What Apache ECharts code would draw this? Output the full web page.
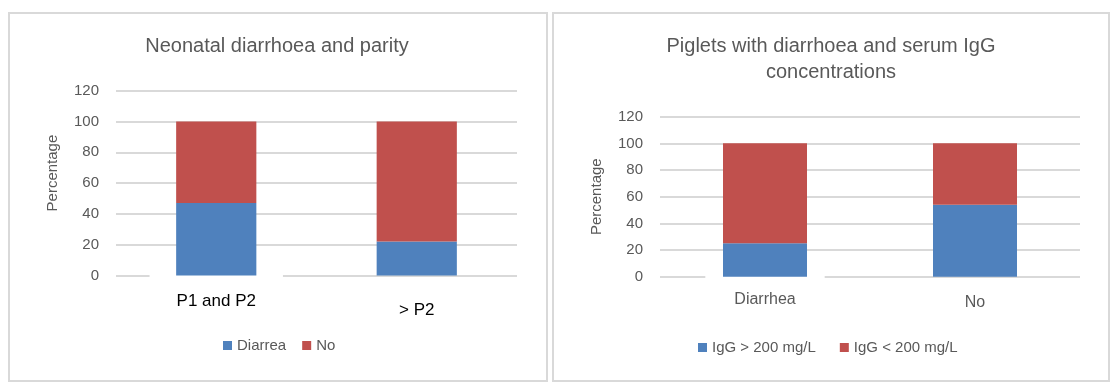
<!DOCTYPE html>
<html>
<head>
<meta charset="utf-8">
<script src="https://cdn.jsdelivr.net/npm/echarts@6/dist/echarts.min.js"></script>
<style>
  html, body { margin: 0; padding: 0; background: #fff; }
  #wrap { position: relative; width: 1117px; height: 386px; overflow: hidden; }
  .panel { position: absolute; box-sizing: border-box; border: 2px solid #d9d9d9; background: #fff; }
  #chart { position: absolute; left: 0; top: 0; width: 1117px; height: 386px; }
</style>
</head>
<body>
<div id="wrap">
  <div class="panel" style="left:8px;top:12px;width:540px;height:370px;"></div>
  <div class="panel" style="left:552px;top:12px;width:558px;height:370px;"></div>
  <div id="chart"></div>
</div>
<script>
// ---- data ----
const leftTitle = 'Neonatal diarrhoea and parity';
const leftCategories = ['P1 and P2', '> P2'];
const leftDiarrea = [47, 22];
const leftNo = [53, 78];

const rightTitle = 'Piglets with diarrhoea and serum IgG\nconcentrations';
const rightCategories = ['Diarrhea', 'No'];
const rightIgGHigh = [25, 54];
const rightIgGLow = [75, 46];

const yTicks = { min: 0, max: 120, interval: 20 };
const axisName = 'Percentage';

// ---- style ----
const FONT = '"Liberation Sans", Arial, sans-serif';
const GRAY = '#595959';
const BLUE = '#4F81BD';
const RED = '#C0504D';
const GRID = '#d9d9d9';

function yAxis(gridIndex, namePad) {
  return {
    type: 'value', gridIndex: gridIndex, min: yTicks.min, max: yTicks.max, interval: yTicks.interval,
    axisLine: { show: false }, axisTick: { show: false },
    axisLabel: { color: GRAY, fontSize: 15, fontFamily: FONT, margin: 17 },
    splitLine: { lineStyle: { color: GRID, width: 2 } },
    name: axisName, nameLocation: 'middle', nameRotate: 90, nameGap: 56,
    nameTextStyle: { color: GRAY, fontSize: 15, fontFamily: FONT, padding: namePad }
  };
}

const chart = echarts.init(document.getElementById('chart'), null, { renderer: 'canvas' });
chart.setOption({
  animation: false,
  backgroundColor: 'transparent',
  title: [
    { text: leftTitle, left: 277, top: 34, textAlign: 'center', padding: 0,
      textStyle: { color: GRAY, fontSize: 20, fontWeight: 'normal', fontFamily: FONT, lineHeight: 24 } },
    { text: rightTitle, left: 831, top: 33, textAlign: 'center', padding: 0,
      textStyle: { color: GRAY, fontSize: 20, fontWeight: 'normal', fontFamily: FONT, lineHeight: 26 } }
  ],
  legend: [
    { data: ['Diarrea', 'No'], left: 223, top: 338, padding: 0, itemWidth: 9, itemHeight: 9, itemGap: 16,
      icon: 'rect', textStyle: { color: GRAY, fontSize: 15, fontFamily: FONT } },
    { data: ['IgG > 200 mg/L', 'IgG < 200 mg/L'], left: 698, top: 340, padding: 0, itemWidth: 9, itemHeight: 9, itemGap: 24,
      icon: 'rect', textStyle: { color: GRAY, fontSize: 15, fontFamily: FONT } }
  ],
  grid: [
    { left: 116, top: 90.7, width: 401, height: 184.8, containLabel: false },
    { left: 660, top: 116.7, width: 420, height: 160, containLabel: false }
  ],
  xAxis: [
    { type: 'category', gridIndex: 0, data: leftCategories, z: 1,
      axisLine: { show: false }, axisTick: { show: false },
      axisLabel: { margin: -2.5, interval: 0,
        formatter: (v, i) => i === 0 ? '{a|' + v + '}' : '{b|' + v + '}',
        rich: {
          a: { fontSize: 17, fontFamily: FONT, color: '#000', lineHeight: 20, backgroundColor: '#fff', padding: [38, 27, 2, 27] },
          b: { fontSize: 17, fontFamily: FONT, color: '#000', lineHeight: 20, padding: [54, 0, 0, 0] }
        } } },
    { type: 'category', gridIndex: 1, data: rightCategories, z: 1,
      axisLine: { show: false }, axisTick: { show: false },
      axisLabel: { margin: -2, interval: 0,
        formatter: (v, i) => i === 0 ? '{a|' + v + '}' : '{b|' + v + '}',
        rich: {
          a: { fontSize: 16, fontFamily: FONT, color: GRAY, lineHeight: 19, backgroundColor: '#fff', padding: [32, 29, 2, 29] },
          b: { fontSize: 16, fontFamily: FONT, color: GRAY, lineHeight: 19, padding: [37, 0, 0, 0] }
        } } }
  ],
  yAxis: [ yAxis(0, [0, 0, 0, 20]), yAxis(1, [0, 0, 0, 0]) ],
  series: [
    { name: 'Diarrea', type: 'bar', stack: 'L', xAxisIndex: 0, yAxisIndex: 0, data: leftDiarrea, barWidth: '40%', itemStyle: { color: BLUE } },
    { name: 'No', type: 'bar', stack: 'L', xAxisIndex: 0, yAxisIndex: 0, data: leftNo, barWidth: '40%', itemStyle: { color: RED } },
    { name: 'IgG > 200 mg/L', type: 'bar', stack: 'R', xAxisIndex: 1, yAxisIndex: 1, data: rightIgGHigh, barWidth: '40%', itemStyle: { color: BLUE } },
    { name: 'IgG < 200 mg/L', type: 'bar', stack: 'R', xAxisIndex: 1, yAxisIndex: 1, data: rightIgGLow, barWidth: '40%', itemStyle: { color: RED } }
  ]
});
</script>
</body>
</html>
